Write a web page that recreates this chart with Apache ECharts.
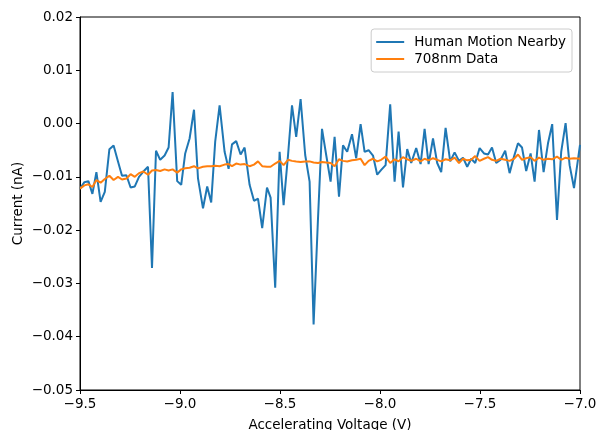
<!DOCTYPE html>
<html>
<head>
<meta charset="utf-8">
<script src="https://cdn.jsdelivr.net/npm/echarts@6/dist/echarts.min.js"></script>
<style>html,body{margin:0;padding:0;background:#fff;}#c{width:597px;height:430px;}</style>
</head>
<body>
<div id="c"></div>
<script>
const voltage = [-9.500,-9.478,-9.458,-9.438,-9.418,-9.397,-9.376,-9.353,-9.332,-9.310,
-9.290,-9.268,-9.247,-9.226,-9.205,-9.183,-9.160,-9.140,-9.120,-9.099,
-9.077,-9.057,-9.037,-9.014,-8.994,-8.974,-8.952,-8.930,-8.910,-8.885,
-8.864,-8.844,-8.824,-8.802,-8.777,-8.757,-8.740,-8.719,-8.697,-8.677,
-8.652,-8.630,-8.610,-8.589,-8.565,-8.547,-8.524,-8.502,-8.482,-8.460,
-8.440,-8.419,-8.397,-8.374,-8.352,-8.332,-8.310,-8.290,-8.269,-8.247,
-8.227,-8.205,-8.185,-8.164,-8.140,-8.119,-8.097,-8.077,-8.057,-8.035,
-8.014,-7.994,-7.972,-7.949,-7.927,-7.907,-7.885,-7.864,-7.844,-7.819,
-7.797,-7.777,-7.757,-7.735,-7.714,-7.694,-7.672,-7.649,-7.627,-7.605,
-7.585,-7.564,-7.544,-7.524,-7.502,-7.480,-7.460,-7.440,-7.419,-7.397,
-7.374,-7.352,-7.330,-7.310,-7.290,-7.269,-7.247,-7.227,-7.205,-7.182,
-7.160,-7.139,-7.115,-7.094,-7.072,-7.052,-7.030,-7.000];

const humanMotion = [-0.0122,-0.0110,-0.0108,-0.0132,-0.0091,-0.0147,-0.0128,-0.0048,-0.0041,-0.0071,
-0.0098,-0.0097,-0.0120,-0.0118,-0.0100,-0.0090,-0.0081,-0.0271,-0.0051,-0.0068,
-0.0060,-0.0045,0.0059,-0.0108,-0.0115,-0.0056,-0.0028,0.0026,-0.0103,-0.0159,
-0.0118,-0.0148,-0.0034,0.0034,-0.0053,-0.0085,-0.0039,-0.0033,-0.0058,-0.0045,
-0.0115,-0.0145,-0.0141,-0.0196,-0.0120,-0.0139,-0.0308,-0.0053,-0.0153,-0.0060,
0.0034,-0.0025,0.0046,-0.0059,-0.0109,-0.0377,-0.0178,-0.0010,-0.0059,-0.0109,
-0.0025,-0.0137,-0.0041,-0.0053,-0.0020,-0.0065,-0.0001,-0.0053,-0.0050,-0.0060,
-0.0096,-0.0087,-0.0078,0.0036,-0.0109,-0.0015,-0.0120,-0.0048,-0.0074,-0.0046,
-0.0076,-0.0010,-0.0076,-0.0028,-0.0074,-0.0091,-0.0008,-0.0071,-0.0054,-0.0070,
-0.0064,-0.0081,-0.0066,-0.0074,-0.0046,-0.0056,-0.0058,-0.0045,-0.0074,-0.0068,
-0.0051,-0.0093,-0.0062,-0.0037,-0.0045,-0.0089,-0.0056,-0.0109,-0.0012,-0.0091,
-0.0037,-0.0001,-0.0181,-0.0053,0.0001,-0.0078,-0.0121,-0.0040];

const data708 = [-0.0122,-0.0116,-0.0114,-0.0119,-0.0106,-0.0111,-0.0104,-0.0098,-0.0106,-0.0100,
-0.0105,-0.0103,-0.0095,-0.0100,-0.0093,-0.0090,-0.0096,-0.0088,-0.0087,-0.0089,
-0.0086,-0.0088,-0.0086,-0.0092,-0.0086,-0.0084,-0.0083,-0.0080,-0.0084,-0.0081,
-0.0080,-0.0080,-0.0079,-0.0080,-0.0077,-0.0076,-0.0080,-0.0075,-0.0077,-0.0076,
-0.0080,-0.0077,-0.0071,-0.0080,-0.0081,-0.0081,-0.0075,-0.0070,-0.0078,-0.0068,
-0.0070,-0.0071,-0.0072,-0.0071,-0.0071,-0.0073,-0.0074,-0.0072,-0.0073,-0.0074,
-0.0080,-0.0067,-0.0070,-0.0071,-0.0069,-0.0068,-0.0066,-0.0078,-0.0070,-0.0066,
-0.0071,-0.0068,-0.0062,-0.0074,-0.0067,-0.0071,-0.0063,-0.0067,-0.0070,-0.0066,
-0.0071,-0.0066,-0.0069,-0.0065,-0.0068,-0.0071,-0.0067,-0.0069,-0.0064,-0.0074,
-0.0066,-0.0069,-0.0068,-0.0061,-0.0070,-0.0066,-0.0063,-0.0068,-0.0070,-0.0066,
-0.0068,-0.0070,-0.0066,-0.0058,-0.0068,-0.0065,-0.0063,-0.0070,-0.0064,-0.0068,
-0.0066,-0.0067,-0.0062,-0.0068,-0.0064,-0.0066,-0.0065,-0.0066];

const seriesNames = ['Human Motion Nearby', '708nm Data'];
const xTitle = 'Accelerating Voltage (V)';
const yTitle = 'Current (nA)';

const FONT = 'DejaVu Sans';
function fmt(v, d) {
  const s = v.toFixed(d);
  if (parseFloat(s) === 0) return (0).toFixed(d);
  return s.replace('-', '\u2212');
}

const chart = echarts.init(document.getElementById('c'), null, {renderer: 'canvas'});
chart.setOption({
  animation: false,
  backgroundColor: '#ffffff',
  grid: {left: 80, right: 17, top: 17, bottom: 40, show: true, borderColor: '#000', borderWidth: 1,
         backgroundColor: 'transparent', containLabel: false, outerBoundsMode: 'none'},
  legend: {
    right: 25, top: 29, orient: 'vertical',
    icon: 'rect', itemWidth: 28, itemHeight: 2, itemGap: 3,
    padding: [6, 6, 6, 5],
    borderColor: '#cccccc', borderWidth: 1, borderRadius: 3,
    textStyle: {fontFamily: FONT, fontSize: 13.5, color: '#000', padding: [0, 0, 0, 5], lineHeight: 14},
    data: seriesNames
  },
  xAxis: {
    type: 'value', min: -9.5, max: -7.0, interval: 0.5,
    name: xTitle, nameLocation: 'middle', nameGap: 28, nameMoveOverlap: false,
    nameTextStyle: {fontFamily: FONT, fontSize: 13.5, color: '#000'},
    axisLine: {show: true, onZero: false, lineStyle: {color: '#000', width: 1}},
    axisTick: {show: true, length: 4, lineStyle: {color: '#000'}},
    axisLabel: {fontFamily: FONT, fontSize: 13.5, color: '#000', margin: 7, formatter: v => fmt(v, 1)},
    splitLine: {show: false}
  },
  yAxis: {
    type: 'value', min: -0.05, max: 0.02, interval: 0.01,
    name: yTitle, nameLocation: 'middle', nameGap: 55, nameRotate: 90, nameMoveOverlap: false,
    nameTextStyle: {fontFamily: FONT, fontSize: 13.5, color: '#000'},
    axisLine: {show: true, onZero: false, lineStyle: {color: '#000', width: 1}},
    axisTick: {show: true, length: 4, lineStyle: {color: '#000'}},
    axisLabel: {fontFamily: FONT, fontSize: 13.5, color: '#000', margin: 7, formatter: v => fmt(v, 2)},
    splitLine: {show: false}
  },
  series: [
    {name: seriesNames[0], type: 'line', symbol: 'none', color: '#1f77b4',
     lineStyle: {width: 2, color: '#1f77b4'},
     data: voltage.map((x, i) => [x, humanMotion[i]])},
    {name: seriesNames[1], type: 'line', symbol: 'none', color: '#ff7f0e',
     lineStyle: {width: 2, color: '#ff7f0e'},
     data: voltage.map((x, i) => [x, data708[i]])}
  ]
});
</script>
</body>
</html>
